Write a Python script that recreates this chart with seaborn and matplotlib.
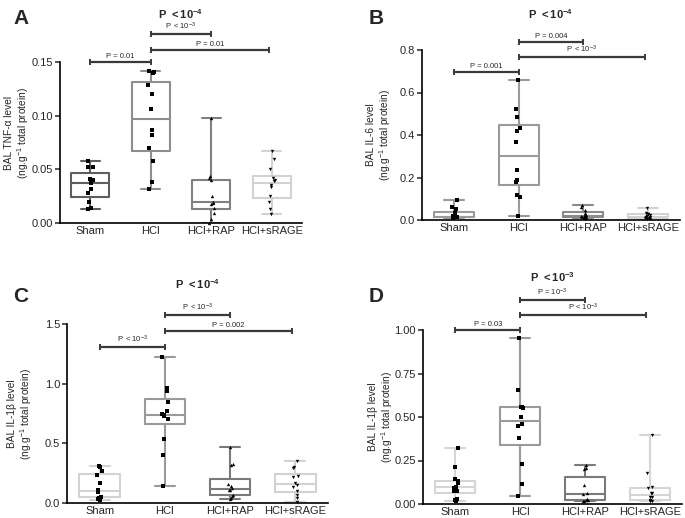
import numpy as np
import pandas as pd
import matplotlib
matplotlib.use("Agg")
import matplotlib.pyplot as plt
import seaborn as sns

GROUPS = ["Sham", "HCl", "HCl+RAP", "HCl+sRAGE"]

# Panel A - BAL TNF-alpha
tnf_sham  = [0.058, 0.052, 0.052, 0.041, 0.040, 0.037, 0.032, 0.028, 0.020, 0.014, 0.013]
tnf_hcl   = [0.142, 0.141, 0.140, 0.129, 0.120, 0.106, 0.087, 0.082, 0.070, 0.058, 0.038, 0.032]
tnf_rap   = [0.0975, 0.044, 0.042, 0.040, 0.025, 0.020, 0.019, 0.018, 0.014, 0.009, 0.004, 0.0]
tnf_srage = [0.067, 0.060, 0.050, 0.042, 0.040, 0.039, 0.035, 0.034, 0.025, 0.020, 0.013, 0.008]

# Panel B - BAL IL-6
il6_sham  = [0.095, 0.062, 0.050, 0.035, 0.018, 0.016, 0.015, 0.014, 0.013, 0.012, 0.011, 0.010]
il6_hcl   = [0.659, 0.523, 0.487, 0.432, 0.418, 0.366, 0.235, 0.188, 0.180, 0.116, 0.108, 0.017]
il6_rap   = [0.070, 0.062, 0.045, 0.035, 0.025, 0.022, 0.020, 0.018, 0.015, 0.012, 0.010, 0.008]
il6_srage = [0.055, 0.035, 0.030, 0.028, 0.024, 0.020, 0.016, 0.014, 0.012, 0.010, 0.008, 0.006, 0.004]

# Panel C - BAL IL-1beta
il1c_sham  = [0.31, 0.305, 0.27, 0.235, 0.165, 0.105, 0.095, 0.09, 0.05, 0.045, 0.035, 0.025]
il1c_hcl   = [1.226, 0.96, 0.94, 0.85, 0.775, 0.745, 0.735, 0.73, 0.70, 0.54, 0.40, 0.14]
il1c_rap   = [0.47, 0.33, 0.32, 0.16, 0.14, 0.125, 0.11, 0.105, 0.07, 0.055, 0.045, 0.035]
il1c_srage = [0.35, 0.30, 0.29, 0.23, 0.215, 0.17, 0.155, 0.13, 0.10, 0.07, 0.04, 0.01]

# Panel D - BAL IL-1beta
il1d_sham  = [0.32, 0.21, 0.145, 0.13, 0.12, 0.10, 0.09, 0.075, 0.075, 0.03, 0.025, 0.02]
il1d_hcl   = [0.956, 0.657, 0.56, 0.555, 0.55, 0.498, 0.46, 0.45, 0.378, 0.23, 0.115, 0.048]
il1d_rap   = [0.225, 0.205, 0.20, 0.11, 0.062, 0.058, 0.03, 0.025, 0.022, 0.02, 0.018]
il1d_srage = [0.397, 0.176, 0.097, 0.093, 0.066, 0.062, 0.042, 0.038, 0.022, 0.02, 0.017, 0.015]

# significance brackets: (from group, to group, height, label)
brackets_a = [(0, 1, 0.150, "P = 0.01"), (1, 2, 0.176, r"P $<$10$^{-3}$"), (1, 2.95, 0.161, "P = 0.01")]
brackets_b = [(0, 1, 0.696, "P = 0.001"), (1, 2, 0.838, "P = 0.004"), (1, 2.95, 0.767, r"P $<$10$^{-3}$")]
brackets_c = [(0, 1, 1.308, r"P $<$10$^{-3}$"), (1, 2, 1.576, r"P $<$10$^{-3}$"), (1, 2.95, 1.442, "P = 0.002")]
brackets_d = [(0, 1, 1.000, "P = 0.03"), (1, 2, 1.172, r"P = 10$^{-3}$"), (1, 2.95, 1.086, r"P < 10$^{-3}$")]

sns.set_style("ticks")
plt.rcParams["font.family"] = ["Liberation Sans", "DejaVu Sans"]
plt.rcParams["mathtext.fontset"] = "custom"
plt.rcParams["mathtext.rm"] = "Liberation Sans"
plt.rcParams["mathtext.bf"] = "Liberation Sans:bold"
plt.rcParams["mathtext.default"] = "regular"

W, H = 685, 518
fig = plt.figure(figsize=(W / 100, H / 100), dpi=100)


def add_axes(left, right, bottom, top):
    return fig.add_axes([left / W, 1 - bottom / H, (right - left) / W, (bottom - top) / H])


def draw_panel(ax, series, colors, yticks, ylabels, ylabel, ylabel_pos, brackets,
               title, title_y, letter, letter_xy):
    df = pd.concat([pd.DataFrame({"group": g, "value": v}) for g, v in zip(GROUPS, series)])
    sns.boxplot(data=df, x="group", y="value", hue="group", order=GROUPS, hue_order=GROUPS,
                palette=colors, fill=False, whis=(0, 100), width=0.62, linewidth=1.5,
                showfliers=False, legend=False, ax=ax)
    markers = ["s", "s", "^", "v"]
    for g, m in zip(GROUPS, markers):
        sns.stripplot(data=df[df.group == g], x="group", y="value", order=GROUPS,
                      color="black", marker=m, size=2.4, jitter=0.05, ax=ax,
                      clip_on=False, zorder=4)

    ax.set_xlim(-0.5, 3.5)
    ax.set_ylim(yticks[0], yticks[-1])
    ax.set_yticks(yticks)
    ax.set_yticklabels(ylabels, fontsize=8)
    ax.set_xticks(range(4))
    ax.set_xticklabels(GROUPS, fontsize=8)
    ax.tick_params(axis="x", length=0, pad=2)
    ax.tick_params(axis="y", length=3.5, width=1.1, pad=1.5)
    ax.set_xlabel("")
    ax.set_ylabel(ylabel, fontsize=7.3, linespacing=1.1)
    ax.yaxis.set_label_coords(*ylabel_pos)
    sns.despine(ax=ax)
    for s in ["left", "bottom"]:
        ax.spines[s].set_linewidth(1.2)
        ax.spines[s].set_color("black")

    rng = yticks[-1] - yticks[0]
    for x1, x2, y, label in brackets:
        ax.plot([x1, x2], [y, y], color="#3a3a3a", lw=1.6, clip_on=False,
                marker="|", markersize=5, markeredgewidth=1.4)
        ax.text((x1 + x2) / 2, y + rng * 0.012, label, ha="center", va="bottom",
                fontsize=5.5, clip_on=False)

    bb = ax.get_position()
    fig.text((bb.x0 + bb.x1) / 2, 1 - title_y / H, title, ha="center", va="center", fontsize=8)
    fig.text(letter_xy[0] / W, 1 - letter_xy[1] / H, letter, ha="left", va="center",
             fontsize=15, fontweight="bold")


TITLE_4 = r"$\mathbf{P\ {<}10^{-4}}$"
TITLE_3 = r"$\mathbf{P\ {<}10^{-3}}$"

ax_a = add_axes(60, 302, 223, 62)
draw_panel(ax_a, [tnf_sham, tnf_hcl, tnf_rap, tnf_srage],
           ["#5e5e5e", "#8e8e8e", "#808080", "#d2d2d2"],
           [0, 0.05, 0.10, 0.15], ["0.00", "0.05", "0.10", "0.15"],
           "BAL TNF-α level\n(ng.g$^{-1}$ total protein)", (-0.118, 0.56), brackets_a,
           TITLE_4, 14, "A", (13, 18))

ax_b = add_axes(422, 680, 220, 50)
draw_panel(ax_b, [il6_sham, il6_hcl, il6_rap, il6_srage],
           ["#9a9a9a", "#9a9a9a", "#8a8a8a", "#d2d2d2"],
           [0, 0.2, 0.4, 0.6, 0.8], ["0.0", "0.2", "0.4", "0.6", "0.8"],
           "BAL IL-6 level\n(ng.g$^{-1}$ total protein)", (-0.112, 0.5), brackets_b,
           TITLE_4, 14, "B", (369, 18))

ax_c = add_axes(67, 328, 503, 324)
draw_panel(ax_c, [il1c_sham, il1c_hcl, il1c_rap, il1c_srage],
           ["#d2d2d2", "#9a9a9a", "#7a7a7a", "#d2d2d2"],
           [0, 0.5, 1.0, 1.5], ["0.0", "0.5", "1.0", "1.5"],
           "BAL IL-1β level\n(ng.g$^{-1}$ total protein)", (-0.128, 0.5), brackets_c,
           TITLE_4, 284, "C", (13, 297))

ax_d = add_axes(423, 682, 504, 330)
draw_panel(ax_d, [il1d_sham, il1d_hcl, il1d_rap, il1d_srage],
           ["#d5d5d5", "#9a9a9a", "#7a7a7a", "#d5d5d5"],
           [0, 0.25, 0.5, 0.75, 1.0], ["0.00", "0.25", "0.50", "0.75", "1.00"],
           "BAL IL-1β level\n(ng.g$^{-1}$ total protein)", (-0.108, 0.5), brackets_d,
           TITLE_3, 277, "D", (369, 297))

fig.savefig("out.png", dpi=100)
